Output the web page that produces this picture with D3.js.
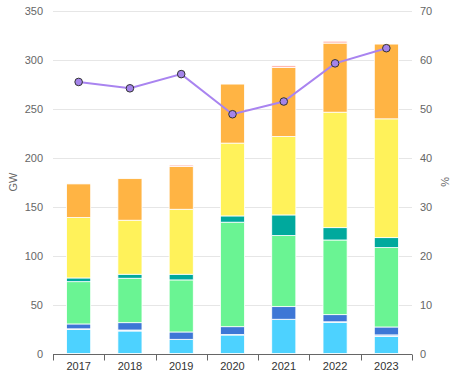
<!DOCTYPE html>
<html><head><meta charset="utf-8">
<script src="https://cdn.jsdelivr.net/npm/d3@7"></script>
<style>body{margin:0;background:#fff;font-family:"Liberation Sans",Arial,sans-serif;}</style>
</head><body><svg id="c" width="457" height="382"></svg>
<script>
const years = ["2017","2018","2019","2020","2021","2022","2023"];
const cyan   = [24.7, 23, 14.5, 18.9, 35, 31.9, 17.5];
const pale   = [0.5, 1, 0, 0.5, 0, 0.5, 1.5];
const blue   = [5, 7.5, 7.5, 8, 12.9, 7.3, 8.1];
const green  = [43.2, 45.4, 53.2, 106.8, 72.6, 76.3, 81.1];
const teal   = [3.8, 4.1, 5.8, 6.4, 21.1, 12.6, 10.2];
const yellow = [61.7, 55.2, 66.4, 74.4, 80.1, 118, 121.4];
const orange = [34.4, 42.5, 43.6, 60.5, 70.5, 70.6, 76.4];
const pink   = [0, 0, 1.6, 0.5, 2.1, 2, 0];
const share  = [55.5, 54.2, 57.1, 48.9, 51.5, 59.3, 62.4];
const leftTicks = [0,50,100,150,200,250,300,350];
const rightTicks = [0,10,20,30,40,50,60,70];

const series = [
  {v:cyan, c:"#4dd2ff"},
  {v:pale, c:"#a9c6f2"},
  {v:blue, c:"#3d77d6"},
  {v:green, c:"#6af493"},
  {v:teal, c:"#00a99d"},
  {v:yellow, c:"#fff25a"},
  {v:orange, c:"#ffb444"},
  {v:pink, c:"#ffb8b0"}
];

const svg = d3.select("#c");
const L=53, R=412, T=11, B=353.5;
const x = d3.scaleBand().domain(years).range([L,R]).paddingInner(0.53).paddingOuter(0.265);
const y = d3.scaleLinear().domain([0,350]).range([B,T]);
const y2 = d3.scaleLinear().domain([0,70]).range([B,T]);

// grid
svg.append("g").selectAll("line").data(leftTicks.slice(1)).join("line")
  .attr("x1",L).attr("x2",R).attr("y1",d=>Math.round(y(d))+0.5).attr("y2",d=>Math.round(y(d))+0.5)
  .attr("stroke","#e6e6e6").attr("stroke-width",1);

// stacked bars
const rows = years.map((yr,i)=>{const o={year:yr}; series.forEach((s,k)=>o["s"+k]=s.v[i]); return o;});
const stack = d3.stack().keys(series.map((s,k)=>"s"+k))(rows);
svg.append("g").selectAll("g").data(stack).join("g")
  .attr("fill",(d,k)=>series[k].c)
  .selectAll("rect").data(d=>d.filter(p=>p[1]-p[0]>0)).join("rect")
  .attr("x",d=>x(d.data.year)).attr("width",x.bandwidth())
  .attr("y",d=>y(d[1])).attr("height",d=>Math.max(0,y(d[0])-y(d[1])))
  .attr("stroke","#fff").attr("stroke-width",0.8);

// x axis
const xa = svg.append("g").attr("transform",`translate(0,${Math.round(B)+0.5})`);
xa.append("line").attr("x1",L).attr("x2",R).attr("stroke","#666").attr("stroke-width",1);
const step = x.step();
xa.selectAll(".tk").data(d3.range(years.length+1)).join("line")
  .attr("x1",i=>Math.round(L+i*step)+0.5).attr("x2",i=>Math.round(L+i*step)+0.5)
  .attr("y1",0).attr("y2",6).attr("stroke","#666");
xa.selectAll("text").data(years).join("text")
  .attr("x",d=>x(d)+x.bandwidth()/2).attr("y",15)
  .attr("text-anchor","middle").attr("font-size",11).attr("fill","#333").text(d=>d);

// left axis labels
svg.append("g").selectAll("text").data(leftTicks).join("text")
  .attr("x",43).attr("y",d=>y(d)+4).attr("text-anchor","end")
  .attr("font-size",11).attr("fill","#666").text(d=>d);
// right axis labels
svg.append("g").selectAll("text").data(rightTicks).join("text")
  .attr("x",420).attr("y",d=>y2(d)+4).attr("text-anchor","start")
  .attr("font-size",11).attr("fill","#666").text(d=>d);

svg.append("text").attr("transform","translate(17,182) rotate(-90)")
  .attr("text-anchor","middle").attr("font-size",11).attr("fill","#666").text("GW");
svg.append("text").attr("transform","translate(441,182) rotate(90)")
  .attr("text-anchor","middle").attr("font-size",11).attr("fill","#666").text("%");

// line
const cx = d=>x(d)+x.bandwidth()/2;
svg.append("path").datum(share)
  .attr("d",d3.line().x((d,i)=>cx(years[i])).y(d=>y2(d)))
  .attr("fill","none").attr("stroke","#a984f0").attr("stroke-width",2);
svg.append("g").selectAll("circle").data(share).join("circle")
  .attr("cx",(d,i)=>cx(years[i])).attr("cy",d=>y2(d)).attr("r",3.8)
  .attr("fill","#a484ea").attr("stroke","#333").attr("stroke-width",1);
</script></body></html>
